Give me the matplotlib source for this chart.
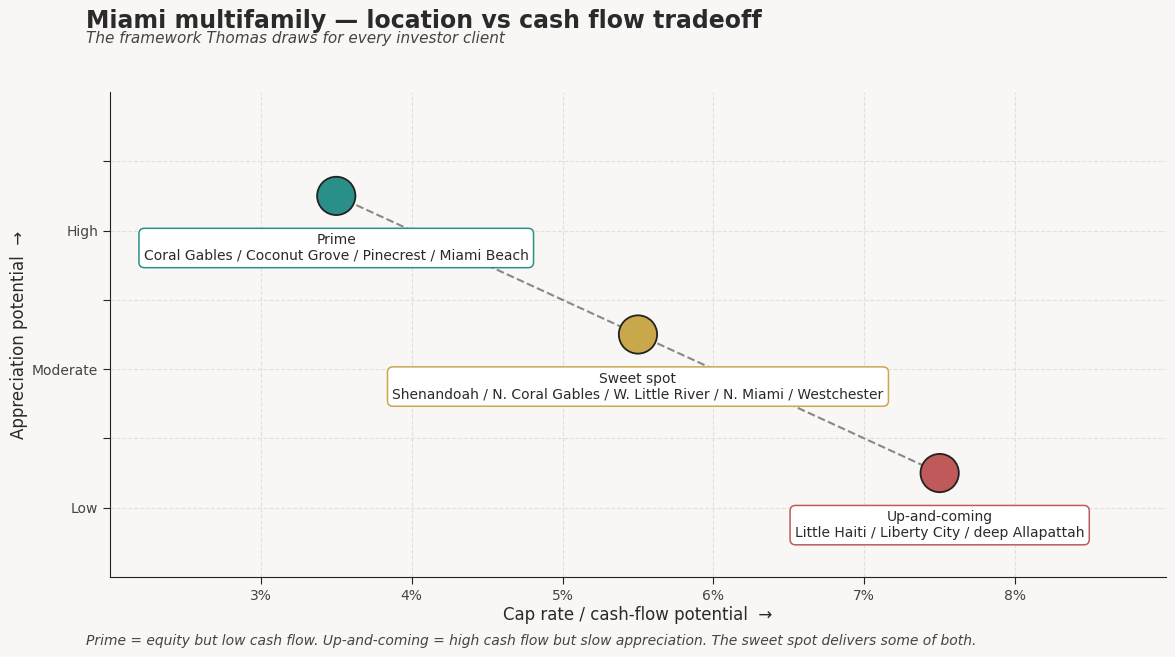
import matplotlib
matplotlib.use("Agg")
import matplotlib.pyplot as plt

# data
segments = ["Prime", "Sweet spot", "Up-and-coming"]
neighborhoods = [
    "Coral Gables / Coconut Grove / Pinecrest / Miami Beach",
    "Shenandoah / N. Coral Gables / W. Little River / N. Miami / Westchester",
    "Little Haiti / Liberty City / deep Allapattah",
]
cap_rate = [3.5, 5.5, 7.5]
appreciation = [3.25, 2.25, 1.25]
colors = ["#2a8f88", "#c9a84c", "#c05a5a"]

x_ticks = [3, 4, 5, 6, 7, 8]
x_labels = ["3%", "4%", "5%", "6%", "7%", "8%"]
y_ticks = [1, 1.5, 2, 2.5, 3, 3.5]
y_labels = ["Low", "", "Moderate", "", "High", ""]

bg = "#f8f7f5"
fig = plt.figure(figsize=(11.75, 6.57), dpi=100, facecolor=bg)
ax = fig.add_axes([0.0936, 0.1218, 0.8987, 0.7382])
ax.set_facecolor(bg)

# connecting line
ax.plot(cap_rate, appreciation, linestyle="--", color="#888888", lw=1.5, zorder=2)
ax.scatter(cap_rate, appreciation, s=760, c=colors, edgecolors="#222222",
           linewidths=1.3, zorder=3)

for seg, hood, x, y, c in zip(segments, neighborhoods, cap_rate, appreciation, colors):
    ax.annotate(f"{seg}\n{hood}", xy=(x, y), xytext=(0, -37.5),
                textcoords="offset points", ha="center", va="center",
                fontsize=10, color="#2a2a2a", linespacing=1.15, zorder=4,
                bbox=dict(boxstyle="round,pad=0.35,rounding_size=0.4",
                          fc="white", ec=c, lw=1.1))

ax.set_xlim(2, 9)
ax.set_ylim(0.5, 4)
ax.set_xticks(x_ticks)
ax.set_xticklabels(x_labels)
ax.set_yticks(y_ticks)
ax.set_yticklabels(y_labels)
ax.tick_params(colors="#444444", labelsize=10, length=5)
ax.tick_params(axis="both", color="#222222")
ax.grid(True, linestyle="--", color="#e2e0dc", lw=0.8, zorder=0)
ax.set_axisbelow(True)

for s in ["top", "right"]:
    ax.spines[s].set_visible(False)
for s in ["left", "bottom"]:
    ax.spines[s].set_color("#222222")

ax.set_xlabel("Cap rate / cash-flow potential  \u2192", fontsize=12, color="#2a2a2a", labelpad=2)
ax.set_ylabel("Appreciation potential  \u2192", fontsize=12, color="#2a2a2a", labelpad=3)

fig.text(0.073, 0.968, "Miami multifamily \u2014 location vs cash flow tradeoff",
         fontsize=17, fontweight="bold", color="#2a2a2a", va="center")
fig.text(0.073, 0.941, "The framework Thomas draws for every investor client",
         fontsize=11, style="italic", color="#444444", va="center")
fig.text(0.073, 0.025,
         "Prime = equity but low cash flow. Up-and-coming = high cash flow but slow appreciation. "
         "The sweet spot delivers some of both.",
         fontsize=10, style="italic", color="#444444", va="center")

fig.savefig("out.png", dpi=100, facecolor=bg)
